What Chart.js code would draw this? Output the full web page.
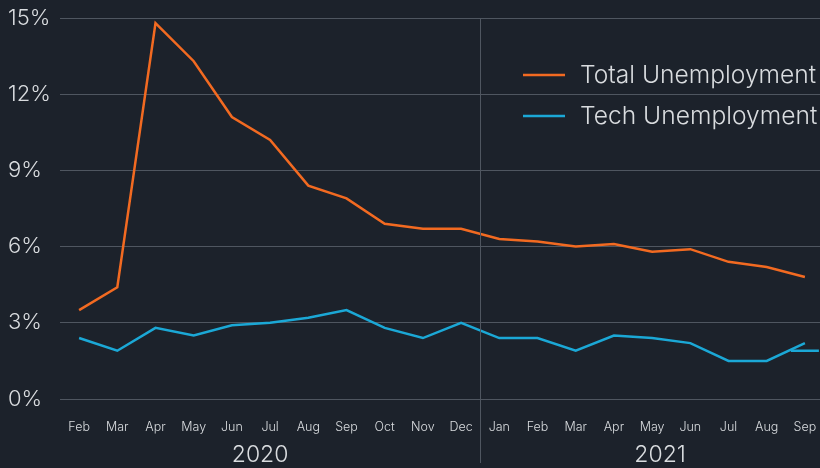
<!DOCTYPE html>
<html>
<head>
<meta charset="utf-8">
<script src="https://cdn.jsdelivr.net/npm/chart.js@4/dist/chart.umd.min.js"></script>
<style>
  html, body { margin: 0; padding: 0; background: #1c222b; overflow: hidden; }
  /* plot runs a few pixels past the right edge, like the original */
  #wrap { width: 824px; height: 468px; position: relative; }
</style>
</head>
<body>
<div id="wrap"><canvas id="chart"></canvas></div>
<script>
const months = ['Feb', 'Mar', 'Apr', 'May', 'Jun', 'Jul', 'Aug', 'Sep', 'Oct', 'Nov', 'Dec',
                'Jan', 'Feb', 'Mar', 'Apr', 'May', 'Jun', 'Jul', 'Aug', 'Sep'];
const years = [
    { label: '2020', from: 0, to: 10 },
    { label: '2021', from: 11, to: 19 }
];
const totalUnemployment = [3.5, 4.4, 14.8, 13.3, 11.1, 10.2, 8.4, 7.9, 6.9, 6.7, 6.7,
                           6.3, 6.2, 6.0, 6.1, 5.8, 5.9, 5.4, 5.2, 4.8];
const techUnemployment = [2.4, 1.9, 2.8, 2.5, 2.9, 3.0, 3.2, 3.5, 2.8, 2.4, 3.0,
                          2.4, 2.4, 1.9, 2.5, 2.4, 2.2, 1.5, 1.5, 2.2];
// small stub of the next tech value, cut off at the right edge
const techNext = [null, null, null, null, null, null, null, null, null, null, null,
                  null, null, null, null, null, null, null, null, 1.9];
const yTicks = [0, 3, 6, 9, 12, 15];

const ORANGE = '#f26a21';
const BLUE = '#1ba8d6';
const GRID = '#4f5660';
const TEXT = '#d9dcdf';
const FONT = 'Inter, "Noto Sans", sans-serif';

// year labels + divider between Dec and Jan
const yearPlugin = {
    id: 'years',
    afterDraw(chart) {
        const ctx = chart.ctx;
        const x = chart.scales.x;
        const area = chart.chartArea;
        const divX = (x.getPixelForValue(years[0].to) + x.getPixelForValue(years[1].from)) / 2;
        ctx.save();
        ctx.strokeStyle = GRID;
        ctx.lineWidth = 1;
        ctx.beginPath();
        ctx.moveTo(Math.round(divX) + 0.5, area.top);
        ctx.lineTo(Math.round(divX) + 0.5, 463);
        ctx.stroke();

        ctx.fillStyle = TEXT;
        ctx.font = '300 23px ' + FONT;
        ctx.textAlign = 'center';
        ctx.textBaseline = 'middle';
        const shift = [-10, 8];
        years.forEach((y, i) => {
            const cx = (x.getPixelForValue(y.from) + x.getPixelForValue(y.to)) / 2;
            ctx.fillText(y.label, cx + shift[i], 455);
        });
        ctx.restore();
    }
};

// legend drawn inside the plot, top right
const legendPlugin = {
    id: 'insideLegend',
    afterDraw(chart) {
        const ctx = chart.ctx;
        ctx.save();
        ctx.font = '300 24.6px ' + FONT;
        ctx.textBaseline = 'middle';
        ctx.textAlign = 'left';
        const rows = [0, 1].map(i => chart.data.datasets[i]);
        rows.forEach((ds, i) => {
            const y = 75 + i * 41;
            ctx.strokeStyle = ds.borderColor;
            ctx.lineWidth = 2.5;
            ctx.beginPath();
            ctx.moveTo(523, y);
            ctx.lineTo(565, y);
            ctx.stroke();
            ctx.fillStyle = TEXT;
            ctx.fillText(ds.label, 580, y + 1);
        });
        ctx.restore();
    }
};

new Chart(document.getElementById('chart'), {
    type: 'line',
    data: {
        labels: months,
        datasets: [
            {
                label: 'Total Unemployment',
                data: totalUnemployment,
                borderColor: ORANGE,
                borderWidth: 2.5,
                pointRadius: 0,
                tension: 0
            },
            {
                label: 'Tech Unemployment',
                data: techUnemployment,
                borderColor: BLUE,
                borderWidth: 2.5,
                pointRadius: 0,
                tension: 0
            },
            {
                label: 'Tech next',
                data: techNext,
                borderColor: BLUE,
                showLine: false,
                pointStyle: 'line',
                pointRadius: 14,
                pointBorderWidth: 2.5,
                pointBorderColor: BLUE
            }
        ]
    },
    options: {
        responsive: true,
        maintainAspectRatio: false,
        animation: false,
        events: [],
        layout: { autoPadding: false, padding: { left: 8, top: 18, right: 0, bottom: 0 } },
        plugins: {
            legend: { display: false },
            tooltip: { enabled: false }
        },
        scales: {
            x: {
                offset: true,
                border: { display: false },
                grid: {
                    display: true,
                    drawOnChartArea: false,
                    drawTicks: true,
                    tickLength: 18,
                    tickColor: 'rgba(0,0,0,0)',
                    offset: false
                },
                ticks: {
                    color: TEXT,
                    font: { family: FONT, size: 12.5, weight: '300' },
                    padding: 3,
                    maxRotation: 0,
                    autoSkip: false
                },
                afterFit(scale) { scale.height = 69; }
            },
            y: {
                min: 0,
                max: 15,
                border: { display: false },
                grid: { color: GRID, drawTicks: false, lineWidth: 1 },
                afterBuildTicks(scale) { scale.ticks = yTicks.map(v => ({ value: v })); },
                ticks: {
                    color: TEXT,
                    crossAlign: 'far',
                    font: { family: FONT, size: 22, weight: '300' },
                    callback: v => v + '%'
                },
                afterFit(scale) { scale.width = 52; }
            }
        }
    },
    plugins: [yearPlugin, legendPlugin]
});
</script>
</body>
</html>
